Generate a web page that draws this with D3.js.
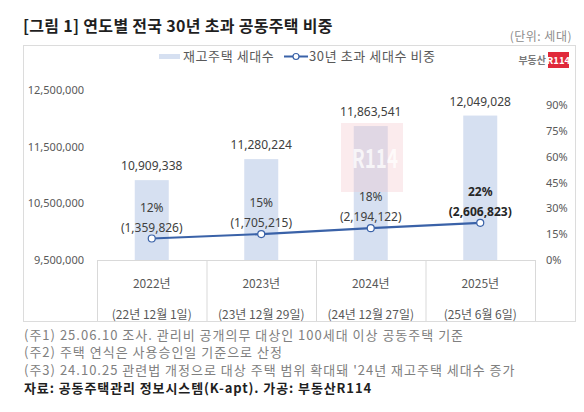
<!DOCTYPE html>
<html>
<head>
<meta charset="utf-8">
<script src="https://cdn.jsdelivr.net/npm/d3@7"></script>
<style>
  body { margin: 0; background: #fff; }
  svg { font-family: "Noto Sans CJK KR", "Noto Sans", sans-serif; }
</style>
</head>
<body>
<svg id="chart" width="584" height="412"></svg>
<script>
"use strict";

// données
var years = ["2022년", "2023년", "2024년", "2025년"];
var dates = ["(22년 12월 1일)", "(23년 12월 29일)", "(24년 12월 27일)", "(25년 6월 6일)"];
var stock = [10909338, 11280224, 11863541, 12049028];
var over30 = [1359826, 1705215, 2194122, 2606823];
var ratio = [12.5, 15.1, 18.5, 21.6];
var ratioLabels = ["12%", "15%", "18%", "22%"];
var leftTicks = [9500000, 10500000, 11500000, 12500000];
var rightTicks = [0, 15, 30, 45, 60, 75, 90];
var notes = [
  "(주1) 25.06.10 조사. 관리비 공개의무 대상인 100세대 이상 공동주택 기준",
  "(주2) 주택 연식은 사용승인일 기준으로 산정",
  "(주3) 24.10.25 관련법 개정으로 대상 주택 범위 확대돼 '24년 재고주택 세대수 증가"
];

var svg = d3.select("#chart");
var fmt = d3.format(",");

var barColor = "#d6e0f1", lineColor = "#3a62a8";

// titre
svg.append("text").attr("x", 23).attr("y", 32)
  .attr("font-size", 16).attr("font-weight", "bold").attr("fill", "#1f1f1f")
  .attr("letter-spacing", 0.3)
  .text("[그림 1] 연도별 전국 30년 초과 공동주택 비중");
svg.append("text").attr("x", 572).attr("y", 41).attr("text-anchor", "end")
  .attr("font-size", 12).attr("fill", "#8c8c8c").attr("letter-spacing", 0.5).text("(단위: 세대)");

// cadre
svg.append("rect").attr("x", 23.5).attr("y", 45.5).attr("width", 552).attr("height", 276)
  .attr("fill", "none").attr("stroke", "#dcdcdc");

var x = d3.scaleBand().domain(years).range([97, 535]).paddingInner(0).paddingOuter(0);
var yL = d3.scaleLinear().domain([9500000, 12500000]).range([260, 90]);
var yR = d3.scaleLinear().domain([0, 100]).range([260, 88]);
var barW = 34;

// légende
var lg = svg.append("g").attr("font-size", 13).attr("fill", "#595959").attr("letter-spacing", 0.6);
lg.append("rect").attr("x", 159).attr("y", 54).attr("width", 21).attr("height", 5).attr("fill", barColor);
lg.append("text").attr("x", 183).attr("y", 61).text("재고주택 세대수");
lg.append("line").attr("x1", 284).attr("x2", 308).attr("y1", 56.5).attr("y2", 56.5)
  .attr("stroke", lineColor).attr("stroke-width", 2);
lg.append("circle").attr("cx", 296).attr("cy", 56.5).attr("r", 3)
  .attr("fill", "#fff").attr("stroke", lineColor).attr("stroke-width", 1.2);
lg.append("text").attr("x", 309).attr("y", 61).text("30년 초과 세대수 비중");

// logo
svg.append("text").attr("x", 546).attr("y", 64).attr("text-anchor", "end")
  .attr("font-size", 10).attr("font-weight", "bold").attr("fill", "#7a7a7a").text("부동산");
svg.append("rect").attr("x", 548).attr("y", 52).attr("width", 21).attr("height", 16).attr("fill", "#e0293a");
svg.append("text").attr("x", 558.5).attr("y", 64).attr("text-anchor", "middle")
  .attr("font-size", 9.5).attr("font-weight", "bold").attr("fill", "#fff").text("R114");

// axes
var axL = svg.append("g").attr("transform", "translate(84,0)")
  .call(d3.axisLeft(yL).tickValues(leftTicks).tickFormat(fmt).tickSize(0).tickPadding(0));
var axR = svg.append("g").attr("transform", "translate(546,0)")
  .call(d3.axisRight(yR).tickValues(rightTicks).tickFormat(d => d + "%").tickSize(0).tickPadding(0));
[axL, axR].forEach(function (ax) {
  ax.select(".domain").remove();
  ax.selectAll("text").attr("font-size", 11).attr("fill", "#595959")
    .attr("font-family", "\"Noto Sans\", sans-serif");
});

// barres
svg.append("g").selectAll("rect").data(stock).enter().append("rect")
  .attr("x", (d, i) => x(years[i]) + x.bandwidth() / 2 - barW / 2)
  .attr("y", d => yL(d))
  .attr("width", barW)
  .attr("height", d => yL.range()[0] - yL(d))
  .attr("fill", barColor);

// filigrane
var wm = svg.append("g").attr("font-weight", "bold").attr("fill", "#fff");
wm.append("rect").attr("x", 341).attr("y", 123).attr("width", 62).attr("height", 69)
  .attr("fill", "#f4c6cc").attr("opacity", 0.35);
wm.append("text").attr("x", 352).attr("y", 168).attr("font-size", 26)
  .attr("textLength", 46).attr("lengthAdjust", "spacingAndGlyphs").attr("opacity", 0.75).text("R114");
wm.append("text").attr("x", 340).attr("y", 176).attr("text-anchor", "end")
  .attr("font-size", 20).attr("opacity", 0.6).text("부동산");

svg.append("g").selectAll("text").data(stock).enter().append("text")
  .attr("x", (d, i) => x(years[i]) + x.bandwidth() / 2)
  .attr("y", d => yL(d) - 10)
  .attr("text-anchor", "middle").attr("font-size", 12).attr("fill", "#404040")
  .attr("font-family", "\"Noto Sans\", sans-serif")
  .text(d => fmt(d));

// ligne
var cx = (d, i) => x(years[i]) + x.bandwidth() / 2;
svg.append("path").datum(ratio)
  .attr("d", d3.line().x(cx).y(d => yR(d)))
  .attr("fill", "none").attr("stroke", lineColor).attr("stroke-width", 2.2);
svg.append("g").selectAll("circle").data(ratio).enter().append("circle")
  .attr("cx", cx).attr("cy", d => yR(d)).attr("r", 3.5)
  .attr("fill", "#fff").attr("stroke", lineColor).attr("stroke-width", 1.2);

var lbl = svg.append("g").attr("text-anchor", "middle").attr("font-size", 12)
  .attr("font-family", "\"Noto Sans\", sans-serif");
lbl.selectAll(".pct").data(ratio).enter().append("text")
  .attr("x", cx).attr("y", d => yR(d) - 27)
  .attr("fill", (d, i) => i === 3 ? "#262626" : "#404040")
  .attr("font-weight", (d, i) => i === 3 ? "bold" : "normal")
  .text((d, i) => ratioLabels[i]);
lbl.selectAll(".cnt").data(over30).enter().append("text")
  .attr("x", cx).attr("y", (d, i) => yR(ratio[i]) - 7)
  .attr("fill", (d, i) => i === 3 ? "#262626" : "#404040")
  .attr("font-weight", (d, i) => i === 3 ? "bold" : "normal")
  .text(d => "(" + fmt(d) + ")");

// tableau des catégories
var tb = svg.append("g").attr("stroke", "#d9d9d9");
tb.append("line").attr("x1", 97).attr("x2", 535).attr("y1", 260.5).attr("y2", 260.5);
years.forEach(function (yr) {
  tb.append("line").attr("x1", x(yr) + 0.5).attr("x2", x(yr) + 0.5).attr("y1", 260).attr("y2", 321);
});
tb.append("line").attr("x1", 535.5).attr("x2", 535.5).attr("y1", 260).attr("y2", 321);

var cat = svg.append("g").attr("text-anchor", "middle").attr("font-size", 12).attr("fill", "#595959");
cat.selectAll(".yr").data(years).enter().append("text")
  .attr("x", d => x(d) + x.bandwidth() / 2).attr("y", 288).text(d => d);
cat.selectAll(".dt").data(dates).enter().append("text")
  .attr("x", (d, i) => x(years[i]) + x.bandwidth() / 2).attr("y", 319).text(d => d);

// notes
svg.append("g").attr("font-size", 13).attr("fill", "#808080").attr("letter-spacing", 1)
  .selectAll("text").data(notes).enter().append("text")
  .attr("x", 24).attr("y", (d, i) => 340 + i * 17.3)
  .text(d => d);
svg.append("text").attr("x", 24).attr("y", 392.5)
  .attr("font-size", 13).attr("font-weight", "bold").attr("fill", "#1f1f1f").attr("letter-spacing", 0.9)
  .text("자료: 공동주택관리 정보시스템(K-apt). 가공: 부동산R114");
</script>
</body>
</html>
